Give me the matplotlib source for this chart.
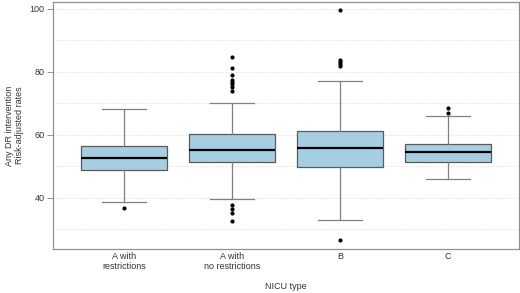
import matplotlib.pyplot as plt

plt.rcParams['font.family'] = ['Liberation Sans', 'DejaVu Sans']

# NICU categories and box statistics
categories = ["A with\nrestrictions", "A with\nno restrictions", "B", "C"]
whisker_lo = [38.6, 39.8, 33.1, 46.0]
q1 = [48.9, 51.5, 49.8, 51.3]
medians = [52.6, 55.2, 55.7, 54.7]
q3 = [56.6, 60.4, 61.2, 57.2]
whisker_hi = [68.3, 70.1, 77.2, 65.9]
outliers = [
    [36.7],
    [37.8, 36.5, 35.2, 32.7, 84.8, 81.4, 79.0, 77.6, 76.9, 76.2, 75.3, 73.9],
    [26.7, 99.7, 83.8, 83.2, 82.6, 82.0],
    [68.7, 66.9],
]

stats = []
for i in range(len(categories)):
    stats.append({
        "whislo": whisker_lo[i], "q1": q1[i], "med": medians[i],
        "q3": q3[i], "whishi": whisker_hi[i], "fliers": outliers[i],
    })

fig = plt.figure(figsize=(5.2, 2.93), dpi=100)
ax = fig.add_axes([53 / 520, 1 - 249 / 293, 466 / 520, 247 / 293])

ax.bxp(stats, positions=[1, 2, 3, 4], widths=0.8, capwidths=0.4,
       patch_artist=True, showfliers=True,
       boxprops=dict(facecolor="#a6cee3", edgecolor="#5a5a5a", linewidth=0.9),
       medianprops=dict(color="black", linewidth=1.6),
       whiskerprops=dict(color="#808080", linewidth=0.9),
       capprops=dict(color="#808080", linewidth=0.9),
       flierprops=dict(marker="o", markersize=2.0, markerfacecolor="black",
                       markeredgecolor="black"))

ax.set_xlim(0.343, 4.657)
ax.set_ylim(23.8, 102.2)
ax.set_yticks([40, 60, 80, 100])
ax.set_yticks([30, 50, 70, 90], minor=True)
ax.set_xticks([1, 2, 3, 4])
ax.set_xticklabels(categories)
ax.grid(True, which="both", axis="y", linestyle=(0, (1, 2)), color="#d0d0d0", linewidth=0.6)
ax.set_axisbelow(True)
ax.tick_params(axis="y", which="minor", length=0)
ax.tick_params(axis="y", which="major", length=4, width=0.6, color="#808080",
               labelsize=6.5, labelcolor="#333333", pad=2)
ax.tick_params(axis="x", length=0, labelsize=6.5, labelcolor="#333333", pad=2)
for s in ax.spines.values():
    s.set_color("#909090")
    s.set_linewidth(0.9)

ax.set_ylabel("Any DR intervention\nRisk-adjusted rates", fontsize=6.5, color="#333333", labelpad=4)
ax.set_xlabel("NICU type", fontsize=6.5, color="#333333", va="center")
ax.xaxis.set_label_coords(0.5, -0.15)

fig.savefig("out.png", dpi=100)
